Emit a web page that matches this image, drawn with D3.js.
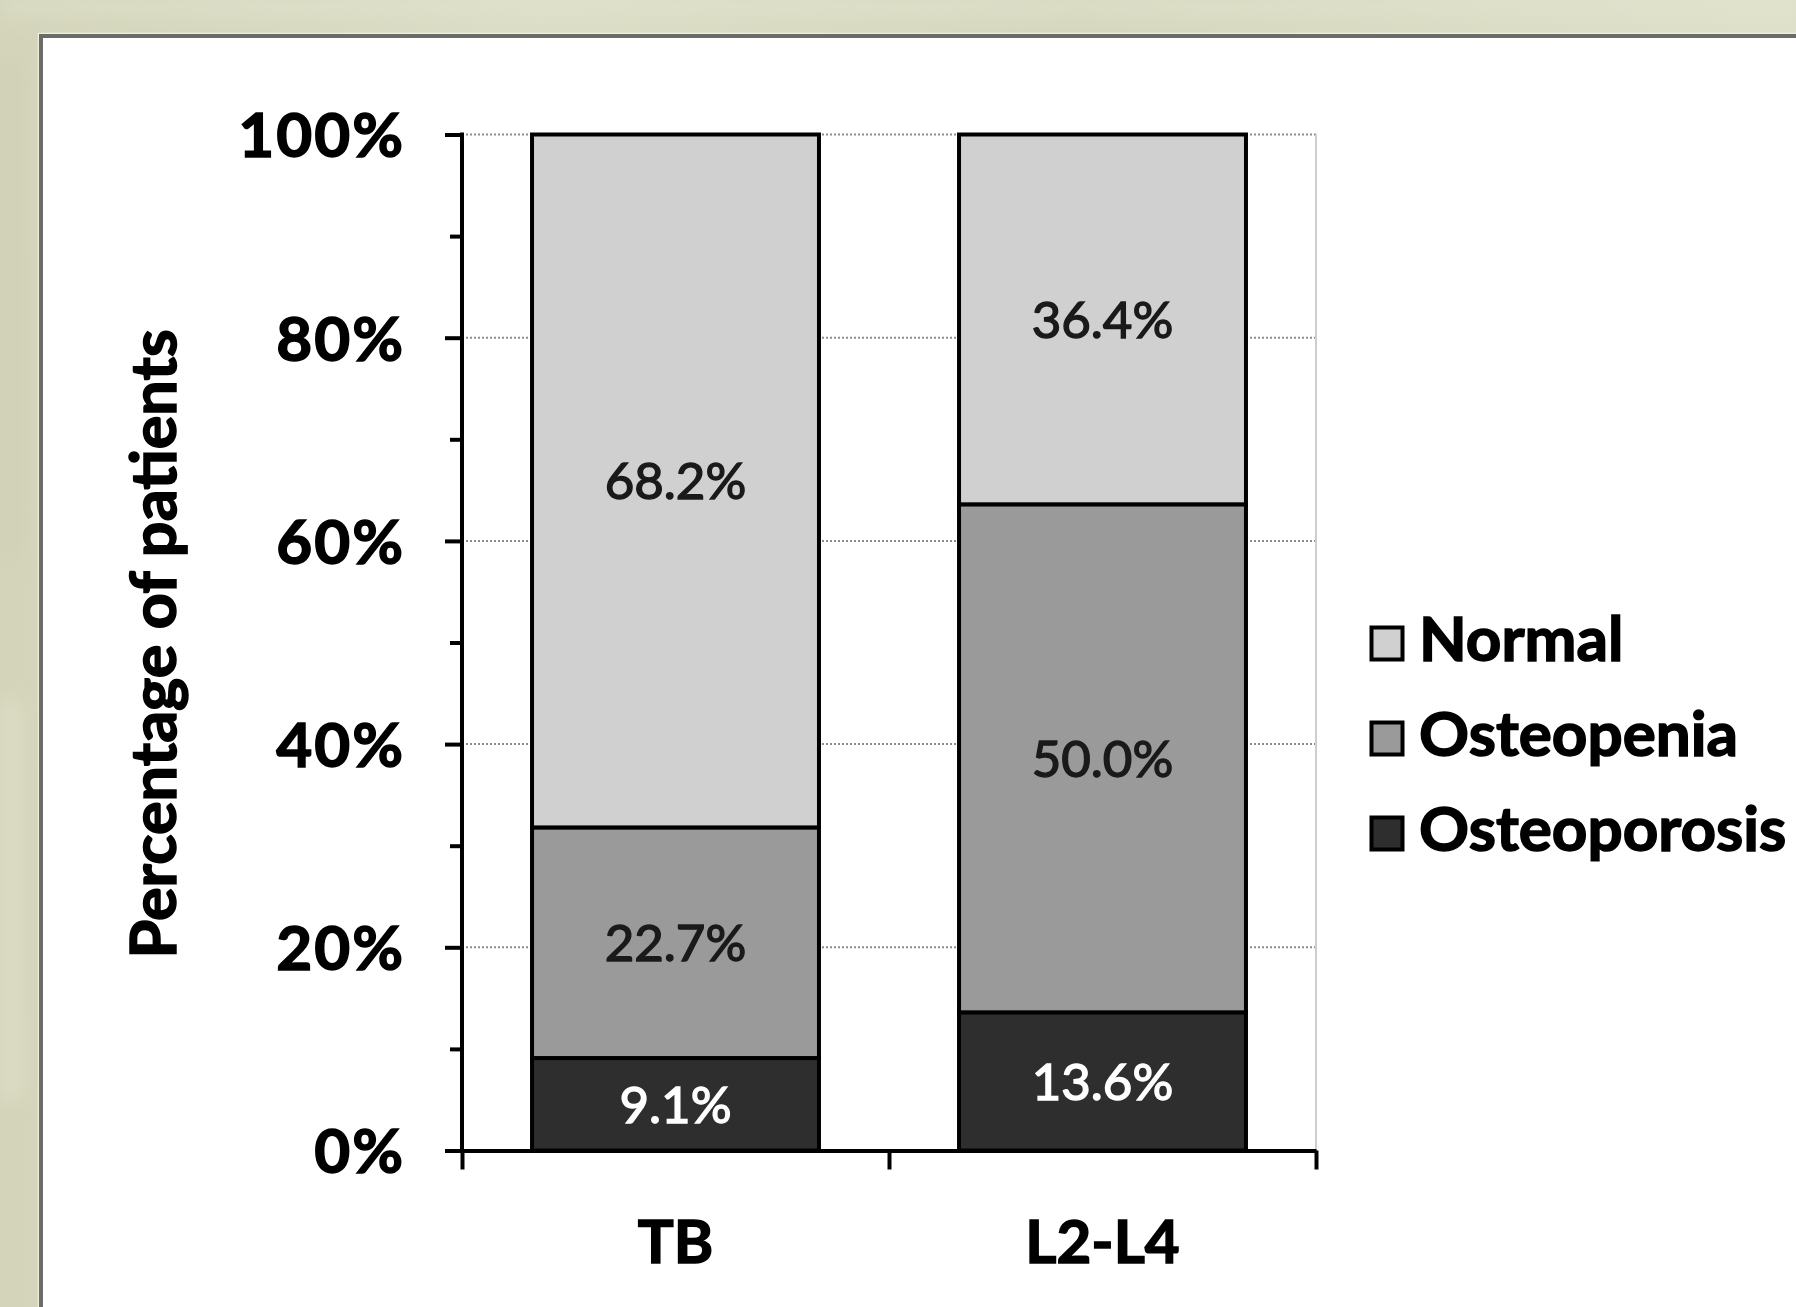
<!DOCTYPE html>
<html>
<head>
<meta charset="utf-8">
<script src="https://cdn.jsdelivr.net/npm/d3@7"></script>
<style>
  html, body { margin: 0; padding: 0; background: #d8d9c1; }
  svg { display: block; }
</style>
</head>
<body>
<svg id="chart" width="1796" height="1307"></svg>
<script>
// Bone density classification by measurement site
const categories = ["TB", "L2-L4"];
const osteoporosis = [9.1, 13.6];
const osteopenia = [22.7, 50.0];
const normal = [68.2, 36.4];
const seriesKeys = ["Osteoporosis", "Osteopenia", "Normal"];
const legendOrder = ["Normal", "Osteopenia", "Osteoporosis"];
const majorTicks = [0, 20, 40, 60, 80, 100];
const minorTicks = [10, 30, 50, 70, 90];
const yTitle = "Percentage of patients";

const colors = { Normal: "#d0d0d0", Osteopenia: "#9a9a9a", Osteoporosis: "#2e2e2e" };
const labelColors = { Normal: "#1a1a1a", Osteopenia: "#1a1a1a", Osteoporosis: "#ffffff" };

const rows = categories.map((c, i) => ({
  cat: c,
  Osteoporosis: osteoporosis[i],
  Osteopenia: osteopenia[i],
  Normal: normal[i]
}));

const svg = d3.select("#chart");
const W = 1796, H = 1307;
const font = "Lato, 'Open Sans', sans-serif";

// slide background
const defs = svg.append("defs");
const bg = defs.append("linearGradient").attr("id", "bgGrad").attr("x1", 0).attr("y1", 0).attr("x2", 1).attr("y2", 0);
bg.append("stop").attr("offset", "0%").attr("stop-color", "#d3d4ba");
bg.append("stop").attr("offset", "30%").attr("stop-color", "#dcddc6");
bg.append("stop").attr("offset", "60%").attr("stop-color", "#d6d7be");
bg.append("stop").attr("offset", "100%").attr("stop-color", "#dfe0ca");
svg.append("rect").attr("width", W).attr("height", H).attr("fill", "url(#bgGrad)");
defs.append("filter").attr("id", "soft").append("feGaussianBlur").attr("stdDeviation", 10);
const patches = svg.append("g").attr("filter", "url(#soft)").attr("opacity", 0.6);
patches.append("rect").attr("x", 0).attr("y", 0).attr("width", W).attr("height", 14).attr("fill", "#e6e7d4");
patches.append("rect").attr("x", 0).attr("y", 60).attr("width", 22).attr("height", 500).attr("fill", "#cfcfb4");
patches.append("rect").attr("x", 0).attr("y", 700).attr("width", 22).attr("height", 400).attr("fill", "#e2e2cc");

// white chart panel with a grey frame
svg.append("rect").attr("x", 38.5).attr("y", 33.5).attr("width", W).attr("height", H)
  .attr("fill", "none").attr("stroke", "#eeeee2").attr("stroke-width", 1.5);
svg.append("rect").attr("x", 41).attr("y", 36).attr("width", W).attr("height", H)
  .attr("fill", "#ffffff").attr("stroke", "#6b6b6b").attr("stroke-width", 4);

// plot area
const plotLeft = 462, plotRight = 1316, plotTop = 134.5, plotBottom = 1150.5;
const x = d3.scaleBand().domain(categories).range([plotLeft, plotRight]).paddingInner(0).paddingOuter(0);
const y = d3.scaleLinear().domain([0, 100]).range([plotBottom, plotTop]);
const barW = x.bandwidth() * 0.672;

// horizontal dotted gridlines
svg.append("g").selectAll("line").data(majorTicks.filter(d => d > 0)).join("line")
  .attr("x1", plotLeft).attr("x2", plotRight)
  .attr("y1", d => y(d)).attr("y2", d => y(d))
  .attr("stroke", "#8c8c8c").attr("stroke-width", 2).attr("stroke-dasharray", "2,2");
// right edge of plot area
svg.append("line").attr("x1", plotRight).attr("x2", plotRight).attr("y1", plotTop).attr("y2", plotBottom)
  .attr("stroke", "#cfcfcf").attr("stroke-width", 2);

// stacked bars
const stack = d3.stack().keys(seriesKeys);
const layers = stack(rows);
const gBars = svg.append("g");
layers.forEach(layer => {
  gBars.append("g").selectAll("rect").data(layer).join("rect")
    .attr("x", d => x(d.data.cat) + (x.bandwidth() - barW) / 2)
    .attr("width", barW)
    .attr("y", d => y(d[1]))
    .attr("height", d => y(d[0]) - y(d[1]))
    .attr("fill", colors[layer.key])
    .attr("stroke", "#000").attr("stroke-width", 4);
});

// value labels inside segments
layers.forEach(layer => {
  svg.append("g").selectAll("text").data(layer).join("text")
    .attr("x", d => x(d.data.cat) + x.bandwidth() / 2)
    .attr("y", d => y((d[0] + d[1]) / 2))
    .attr("dy", "0.36em")
    .attr("text-anchor", "middle")
    .attr("font-family", font).attr("font-size", 51).attr("font-weight", 400)
    .attr("fill", labelColors[layer.key])
    .attr("stroke", labelColors[layer.key]).attr("stroke-width", 1.4)
    .text(d => (d[1] - d[0]).toFixed(1) + "%");
});

// y axis: minor and major ticks
const yMinor = svg.append("g").attr("transform", `translate(${plotLeft},0)`)
  .call(d3.axisLeft(y).tickValues(minorTicks).tickSize(12).tickFormat(""));
const yMajor = svg.append("g").attr("transform", `translate(${plotLeft},0)`)
  .call(d3.axisLeft(y).tickValues(majorTicks).tickSize(17).tickPadding(40).tickFormat(d => d + "%"));
[yMinor, yMajor].forEach(g => {
  g.select(".domain").remove();
  g.selectAll(".tick line").attr("stroke", "#000").attr("stroke-width", 4);
});
yMajor.selectAll(".tick text")
  .attr("font-family", font).attr("font-size", 62).attr("font-weight", 700).attr("fill", "#000")
  .attr("letter-spacing", 2)
  .attr("stroke", "#000").attr("stroke-width", 1.5)
  .attr("dy", "0.36em");
svg.append("line").attr("x1", plotLeft).attr("x2", plotLeft).attr("y1", plotTop - 2).attr("y2", plotBottom + 2)
  .attr("stroke", "#000").attr("stroke-width", 4);

// x axis with ticks between categories
const xBoundaries = categories.map(c => x(c)).concat([plotRight]);
const xAxis = svg.append("g").attr("transform", `translate(0,${plotBottom})`)
  .call(d3.axisBottom(d3.scaleLinear().domain([plotLeft, plotRight]).range([plotLeft, plotRight]))
    .tickValues(xBoundaries).tickSize(19).tickSizeOuter(0).tickFormat(""));
xAxis.selectAll("line, path").attr("stroke", "#000").attr("stroke-width", 4);

svg.append("g").selectAll("text").data(categories).join("text")
  .attr("x", d => x(d) + x.bandwidth() / 2)
  .attr("y", 1263)
  .attr("text-anchor", "middle")
  .attr("font-family", font).attr("font-size", 60).attr("font-weight", 700).attr("fill", "#000")
  .attr("stroke", "#000").attr("stroke-width", 1.5)
  .text(d => d);

// y axis title
svg.append("text")
  .attr("transform", "translate(176,644) rotate(-90)")
  .attr("text-anchor", "middle")
  .attr("font-family", font).attr("font-size", 63).attr("font-weight", 700).attr("fill", "#000")
  .attr("stroke", "#000").attr("stroke-width", 1.5)
  .text(yTitle);

// legend
const legend = svg.append("g").attr("transform", "translate(1370,626)");
const items = legend.selectAll("g").data(legendOrder).join("g")
  .attr("transform", (d, i) => `translate(0,${i * 95})`);
items.append("rect").attr("x", 1.5).attr("y", 1.5).attr("width", 31).attr("height", 32)
  .attr("fill", d => colors[d]).attr("stroke", "#000").attr("stroke-width", 4);
items.append("text").attr("x", 49).attr("y", 35)
  .attr("font-family", font).attr("font-size", 62).attr("font-weight", 700).attr("fill", "#000")
  .attr("stroke", "#000").attr("stroke-width", 1.5)
  .text(d => d);
</script>
</body>
</html>
